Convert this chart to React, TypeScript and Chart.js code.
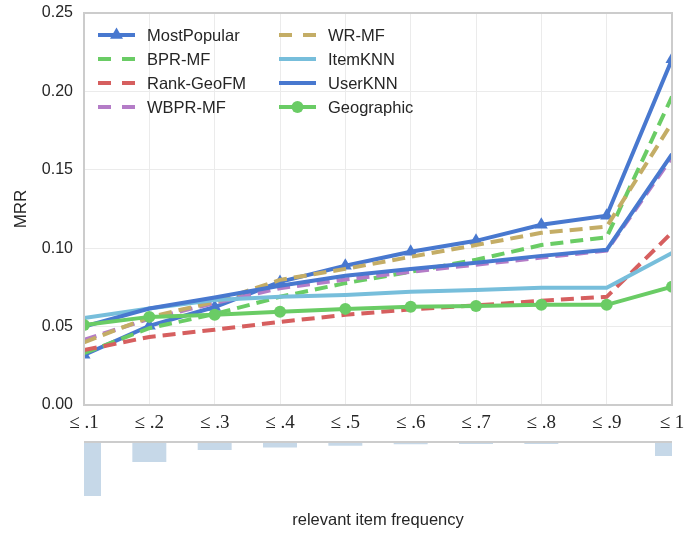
import React, { useEffect, useRef } from 'react';
import { Chart, registerables } from 'chart.js';

Chart.register(...registerables);

// ---------- data ----------
const categories = ['≤ .1', '≤ .2', '≤ .3', '≤ .4', '≤ .5', '≤ .6', '≤ .7', '≤ .8', '≤ .9', '≤ 1'];

const mostPopular = [0.032, 0.0505, 0.0625, 0.0785, 0.0888, 0.0977, 0.1047, 0.1149, 0.1207, 0.2205];
const bprMF = [0.033, 0.049, 0.058, 0.069, 0.0777, 0.085, 0.0926, 0.102, 0.107, 0.1967];
const rankGeoFM = [0.035, 0.0434, 0.048, 0.053, 0.0575, 0.061, 0.0635, 0.0665, 0.069, 0.110];
const wbprMF = [0.0415, 0.055, 0.065, 0.0745, 0.080, 0.085, 0.0895, 0.094, 0.0985, 0.158];
const wrMF = [0.040, 0.056, 0.0658, 0.0798, 0.0868, 0.0945, 0.102, 0.1098, 0.1137, 0.180];
const itemKNN = [0.0555, 0.0615, 0.067, 0.069, 0.0702, 0.0722, 0.0734, 0.0747, 0.0748, 0.097];
const userKNN = [0.050, 0.0615, 0.0686, 0.076, 0.0824, 0.0868, 0.0907, 0.0951, 0.099, 0.160];
const geographic = [0.051, 0.0562, 0.0575, 0.0594, 0.0613, 0.0626, 0.0632, 0.0639, 0.0639, 0.0754];

const itemFrequency = [0.54, 0.20, 0.08, 0.055, 0.037, 0.022, 0.02, 0.02, 0.008, 0.14];

const yMin = 0;
const yMax = 0.25;
const yStep = 0.05;

// ---------- styles ----------
const SANS = "'Liberation Sans', Arial, sans-serif";
const SERIF = "'Liberation Serif', 'Times New Roman', serif";
const TEXT = '#262626';
const GRID = '#ebebeb';
const FRAME = '#cccccc';

const BLUE = '#4878CF';
const GREEN = '#6ACC65';
const RED = '#D65F5F';
const PURPLE = '#B47CC7';
const TAN = '#C4AD66';
const CYAN = '#77BEDB';

type Series = { name: string; data: number[]; color: string; dashed: boolean; marker?: 'triangle' | 'circle' };

const series: Series[] = [
  { name: 'MostPopular', data: mostPopular, color: BLUE, dashed: false, marker: 'triangle' },
  { name: 'BPR-MF', data: bprMF, color: GREEN, dashed: true },
  { name: 'Rank-GeoFM', data: rankGeoFM, color: RED, dashed: true },
  { name: 'WBPR-MF', data: wbprMF, color: PURPLE, dashed: true },
  { name: 'WR-MF', data: wrMF, color: TAN, dashed: true },
  { name: 'ItemKNN', data: itemKNN, color: CYAN, dashed: false },
  { name: 'UserKNN', data: userKNN, color: BLUE, dashed: false },
  { name: 'Geographic', data: geographic, color: GREEN, dashed: false, marker: 'circle' },
];

const LINE_W = 4;
const DASH = [13, 7];
const TRI_R = 7.5;
const CIRC_R = 6;

function drawMarker(ctx: CanvasRenderingContext2D, kind: string, x: number, y: number, color: string) {
  ctx.save();
  ctx.fillStyle = color;
  ctx.beginPath();
  if (kind === 'triangle') {
    const r = TRI_R;
    for (let k = 0; k < 3; k++) {
      const ang = -Math.PI / 2 + (k * 2 * Math.PI) / 3;
      const px = x + r * Math.cos(ang);
      const py = y + r * Math.sin(ang);
      if (k === 0) ctx.moveTo(px, py);
      else ctx.lineTo(px, py);
    }
    ctx.closePath();
  } else {
    ctx.arc(x, y, CIRC_R, 0, Math.PI * 2);
  }
  ctx.fill();
  ctx.restore();
}

const framePlugin = {
  id: 'frame',
  afterDatasetsDraw(chart: any) {
    const { ctx, chartArea: a } = chart;
    ctx.save();
    ctx.strokeStyle = FRAME;
    ctx.lineWidth = 2;
    ctx.setLineDash([]);
    ctx.strokeRect(a.left, a.top, a.right - a.left, a.bottom - a.top);
    ctx.restore();
  },
};

const insideLegend = {
  id: 'insideLegend',
  afterDraw(chart: any) {
    const { ctx, chartArea: a } = chart;
    const colX = [a.left + 14, a.left + 195];
    const lineLen = 37;
    series.forEach((s, i) => {
      const col = Math.floor(i / 4);
      const row = i % 4;
      const x0 = colX[col];
      const y = a.top + 22 + row * 24;
      ctx.save();
      ctx.strokeStyle = s.color;
      ctx.lineWidth = LINE_W;
      ctx.lineCap = 'butt';
      ctx.setLineDash(s.dashed ? [13, 11] : []);
      ctx.beginPath();
      ctx.moveTo(x0, y);
      ctx.lineTo(x0 + lineLen, y);
      ctx.stroke();
      ctx.restore();
      if (s.marker) drawMarker(ctx, s.marker, x0 + lineLen / 2, y, s.color);
      ctx.save();
      ctx.fillStyle = TEXT;
      ctx.font = `16.5px ${SANS}`;
      ctx.textBaseline = 'middle';
      ctx.textAlign = 'left';
      ctx.fillText(s.name, x0 + 49, y + 1);
      ctx.restore();
    });
  },
};

const topLinePlugin = {
  id: 'topLine',
  afterDatasetsDraw(chart: any) {
    const { ctx, chartArea: a } = chart;
    ctx.save();
    ctx.strokeStyle = FRAME;
    ctx.lineWidth = 2;
    ctx.beginPath();
    ctx.moveTo(a.left, a.top);
    ctx.lineTo(a.right, a.top);
    ctx.stroke();
    ctx.restore();
  },
};

export default function App() {
  const topRef = useRef<HTMLCanvasElement>(null);
  const botRef = useRef<HTMLCanvasElement>(null);

  useEffect(() => {
    if (!topRef.current || !botRef.current) return;

    const lineChart = new Chart(topRef.current, {
      type: 'line',
      data: {
        labels: categories,
        datasets: series.map((s, i) => ({
          label: s.name,
          data: s.data,
          borderColor: s.color,
          backgroundColor: s.color,
          borderWidth: LINE_W,
          borderDash: s.dashed ? DASH : [],
          borderCapStyle: 'butt',
          pointStyle: s.marker === 'triangle' ? 'triangle' : 'circle',
          pointRadius: s.marker ? (s.marker === 'triangle' ? TRI_R : CIRC_R) : 0,
          pointHoverRadius: 0,
          pointBackgroundColor: s.color,
          pointBorderColor: s.color,
          pointBorderWidth: 0,
          tension: 0,
          fill: false,
          clip: 0,
          order: series.length - i,
        })) as any,
      },
      options: {
        animation: false,
        responsive: false,
        maintainAspectRatio: false,
        events: [],
        layout: { padding: { top: 13, right: 12, left: 0, bottom: 0 } },
        plugins: { legend: { display: false }, tooltip: { enabled: false } },
        scales: {
          x: {
            offset: false,
            grid: { color: GRID, lineWidth: 1, drawTicks: false, offset: false },
            border: { display: false },
            ticks: {
              font: { family: SERIF, size: 19 },
              color: TEXT,
              padding: 7,
              maxRotation: 0,
              autoSkip: false,
            },
            afterFit: (s: any) => {
              s.height = 35;
              s.paddingLeft = 0;
              s.paddingRight = 0;
            },
          },
          y: {
            min: yMin,
            max: yMax,
            ticks: {
              stepSize: yStep,
              callback: (v: any) => Number(v).toFixed(2),
              font: { family: SANS, size: 16 },
              color: TEXT,
              padding: 11,
            },
            grid: { color: GRID, lineWidth: 1, drawTicks: false },
            border: { display: false },
            title: {
              display: true,
              text: 'MRR',
              font: { family: SANS, size: 17 },
              color: TEXT,
              padding: { top: 11, bottom: 0 },
            },
            afterFit: (s: any) => {
              s.width = 84;
              s.paddingTop = 0;
              s.paddingBottom = 0;
            },
          },
        },
      } as any,
      plugins: [framePlugin, insideLegend],
    });

    const barChart = new Chart(botRef.current, {
      type: 'bar',
      data: {
        labels: categories,
        datasets: [
          {
            label: 'frequency',
            data: itemFrequency,
            backgroundColor: '#c6d8e8',
            borderWidth: 0,
            barPercentage: 0.52,
            categoryPercentage: 1,
            clip: 0,
          } as any,
        ],
      },
      options: {
        animation: false,
        responsive: false,
        maintainAspectRatio: false,
        events: [],
        layout: { padding: { top: 42, left: 84, right: 12, bottom: 0 } },
        plugins: { legend: { display: false }, tooltip: { enabled: false } },
        scales: {
          x: {
            offset: false,
            grid: { display: false, offset: false, drawTicks: false },
            border: { display: false },
            ticks: { display: false },
            title: {
              display: true,
              text: 'relevant item frequency',
              font: { family: SANS, size: 16.5 },
              color: TEXT,
              padding: { top: 6, bottom: 4 },
            },
            afterFit: (s: any) => {
              s.height = 32;
              s.paddingLeft = 0;
              s.paddingRight = 0;
            },
          },
          y: { display: false, reverse: true, min: 0, max: 0.6 },
        },
      } as any,
      plugins: [topLinePlugin],
    });

    return () => {
      lineChart.destroy();
      barChart.destroy();
    };
  }, []);

  return (
    <div style={{ position: 'absolute', left: 0, top: 0, width: 684, height: 534, background: '#fff' }}>
      <canvas ref={topRef} width={684} height={440} style={{ position: 'absolute', left: 0, top: 0 }} />
      <canvas ref={botRef} width={684} height={134} style={{ position: 'absolute', left: 0, top: 400 }} />
    </div>
  );
}
